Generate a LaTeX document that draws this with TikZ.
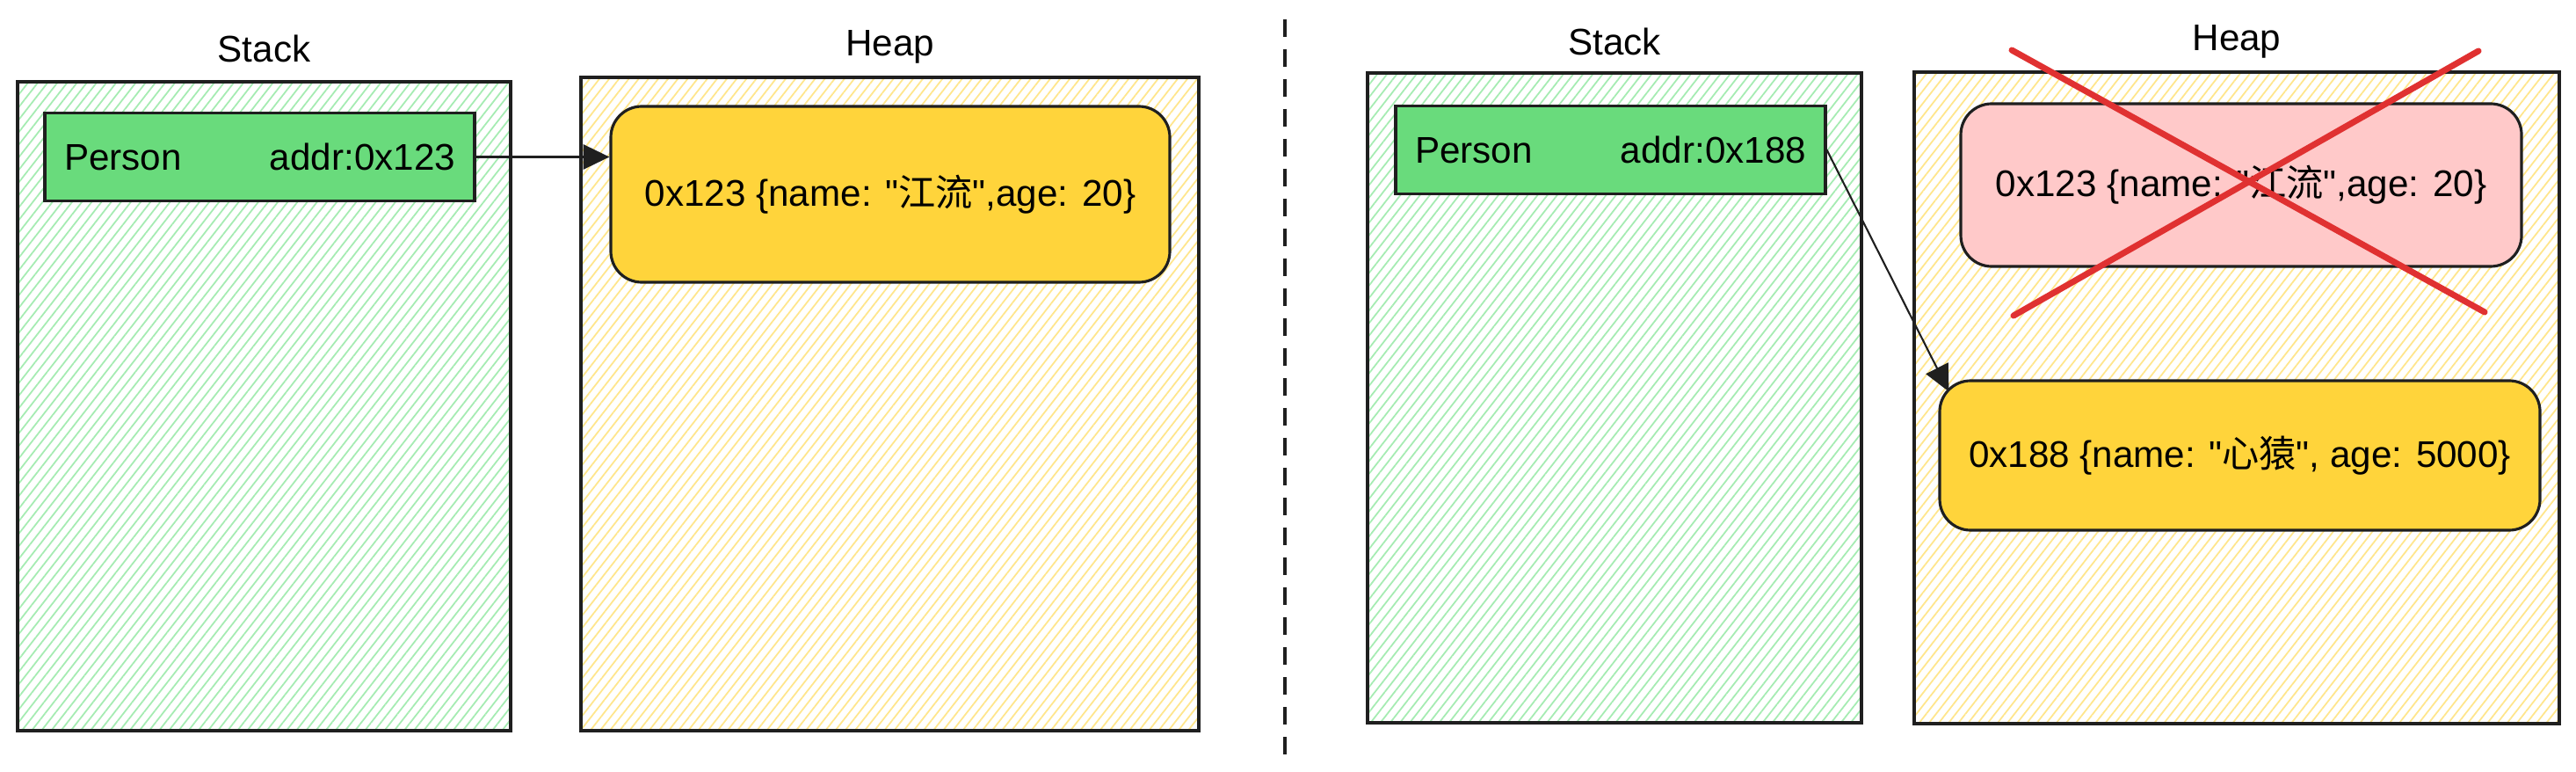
\documentclass[tikz,border=0pt]{standalone}
\usepackage{fontspec}
\setmainfont{Liberation Sans}
\newfontfamily\cjk{Noto Sans CJK SC}
\usetikzlibrary{positioning,patterns.meta,arrows.meta}
\tikzset{>={Triangle[length=8.5pt,width=8pt]}}
\colorlet{ink}{black!88}
\definecolor{stackHatch}{RGB}{165,236,178}
\definecolor{heapHatch}{RGB}{255,230,140}
\definecolor{personFill}{RGB}{105,219,124}
\definecolor{objFill}{RGB}{255,212,59}
\definecolor{deadFill}{RGB}{255,201,201}
\definecolor{crossRed}{RGB}{224,49,49}
\tikzset{
	region/.style={draw=ink,line width=0.9pt,inner sep=0pt},
	stackarea/.style={region,pattern={Lines[angle=52,distance=2.5pt,line width=0.5pt]},pattern color=stackHatch},
	heaparea/.style={region,pattern={Lines[angle=52,distance=2.5pt,line width=0.5pt]},pattern color=heapHatch},
	areatitle/.style={inner sep=0pt,text depth=0pt,font=\fontsize{12}{14}\selectfont},
	pointer/.style={draw=ink,line width=0.9pt,fill=personFill,minimum height=1cm,text width=4.45cm,inner xsep=0.22cm,font=\fontsize{12}{14}\selectfont},
	obj/.style={draw=ink,line width=0.9pt,fill=objFill,rounded corners=10pt,align=center,font=\fontsize{12}{14}\selectfont}
}

\begin{document}
\begin{tikzpicture}
	\fill[white] (0,0) rectangle (29.31,8.77);
	\node[stackarea,minimum width=5.61cm,minimum height=7.38cm] (stackL) at (3.005,4.15) {};
	\node[heaparea,minimum width=7.03cm,minimum height=7.43cm] (heapL) at (10.125,4.175) {};
	\node[areatitle,above=0.21cm of stackL] (stackTitleL) {Stack};
	\node[areatitle,above=0.22cm of heapL] (heapTitleL) {Heap};
	\node[pointer] (personL) at (2.955,6.985) {Person\hfill addr:0x123};
	\node[obj,minimum width=6.36cm,minimum height=2cm] (objL) at (10.13,6.56) {0x123 \{name: \textquotedbl{\cjk 江流}\textquotedbl,age: 20\}};
	\draw[->,ink,line width=0.9pt] (personL.east) -- (personL.east -| objL.west);

	\coordinate (divTop) at (14.62,8.55);
	\coordinate (divBot) at (14.62,0.15);
	\draw[ink,line width=0.9pt,dash pattern=on 0.2cm off 0.14cm] (divTop) -- (divBot);

	\node[stackarea,minimum width=5.62cm,minimum height=7.39cm] (stackR) at (18.37,4.245) {};
	\node[heaparea,minimum width=7.34cm,minimum height=7.41cm] (heapR) at (25.45,4.245) {};
	\node[areatitle,above=0.18cm of stackR] (stackTitleR) {Stack};
	\node[areatitle,above=0.22cm of heapR] (heapTitleR) {Heap};
	\node[pointer] (personR) at (18.325,7.065) {Person\hfill addr:0x188};
	\node[obj,fill=deadFill,minimum width=6.38cm,minimum height=1.85cm] (deadObj) at (25.50,6.665) {0x123 \{name: \textquotedbl{\cjk 江流}\textquotedbl,age: 20\}};
	\node[obj,minimum width=6.83cm,minimum height=1.7cm] (newObj) at (25.485,3.59) {0x188 \{name: \textquotedbl{\cjk 心猿}\textquotedbl, age: 5000\}};
	\draw[crossRed,line width=2pt,line cap=round] (22.89,8.20) -- (28.27,5.22);
	\draw[crossRed,line width=2pt,line cap=round] (28.20,8.19) -- (22.91,5.18);
	\coordinate (hitR) at ([shift={(0.12,-0.14)}]newObj.north west);
	\draw[->,ink,line width=0.6pt] (personR.east) -- (hitR);
\end{tikzpicture}
\end{document}
